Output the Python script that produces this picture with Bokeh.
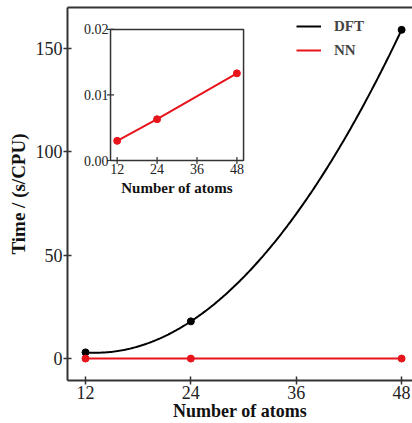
import numpy as np
from bokeh.plotting import figure
from bokeh.models import Range1d, LinearAxis, FixedTicker, Legend, LegendItem
from bokeh.core.properties import value
from bokeh.embed import file_html
from bokeh.resources import INLINE

# ---- data ----
atoms = [12, 24, 48]
dft_time = [3.0, 18.0, 159.0]
nn_time = [0.003, 0.0063, 0.0133]
main_x_ticks = [12, 24, 36, 48]
main_y_ticks = [0, 50, 100, 150]
inset_x_ticks = [12, 24, 36, 48]
inset_x_labels = ["12", "24", "36", "48"]
inset_y_ticks = [0.00, 0.01, 0.02]
inset_y_labels = ["0.00", "0.01", "0.02"]

FONT = "Liberation Serif"
BLACK = "#000000"
RED = "#e8141c"
FRAME = "#333333"

XS, XE = 9.95, 49.24
YS, YE = -10.6, 169.8

p = figure(width=412, height=423, output_backend="svg", toolbar_location=None,
           x_range=Range1d(XS, XE), y_range=Range1d(YS, YE),
           min_border_left=67, min_border_right=0, min_border_top=7, min_border_bottom=0)
p.outline_line_color = None
p.grid.visible = False

for ax in (p.xaxis[0], p.yaxis[0]):
    ax.axis_line_color = FRAME
    ax.axis_line_width = 2
    ax.major_tick_line_color = FRAME
    ax.major_tick_line_width = 1.5
    ax.major_tick_in = 4
    ax.major_tick_out = 4
    ax.minor_tick_in = 0
    ax.minor_tick_out = 0
    ax.major_label_text_font = FONT
    ax.major_label_text_font_size = "18px"
    ax.major_label_text_color = "#222222"
    ax.axis_label_text_font = FONT
    ax.axis_label_text_font_style = "bold"
    ax.axis_label_text_color = "#111111"
    ax.major_label_standoff = 1

p.xaxis.ticker = FixedTicker(ticks=main_x_ticks)
p.yaxis.ticker = FixedTicker(ticks=main_y_ticks)
p.xaxis.axis_label = "Number of atoms"
p.yaxis.axis_label = "Time / (s/CPU)"
p.xaxis.axis_label_text_font_size = "18px"
p.yaxis.axis_label_text_font_size = "19px"
p.xaxis.axis_label_standoff = -1
p.yaxis.axis_label_standoff = 4

top = LinearAxis(ticker=FixedTicker(ticks=[]), axis_line_color=FRAME, axis_line_width=2,
                 major_tick_out=0, major_tick_in=0, minor_tick_out=0, minor_tick_in=0,
                 major_label_text_font_size="0px", major_label_standoff=0)
p.add_layout(top, "above")

# ---- main curves ----
coef = np.polyfit(atoms, dft_time, 2)
xs_fine = np.linspace(min(atoms), max(atoms), 200)
dft_line = p.line(xs_fine, np.polyval(coef, xs_fine), line_color=BLACK, line_width=2)
p.scatter(atoms, dft_time, size=7, color=BLACK)
nn_line = p.line(atoms, nn_time, line_color=RED, line_width=2)
p.scatter(atoms, nn_time, size=7, color=RED)

legend = Legend(items=[LegendItem(label="DFT", renderers=[dft_line]),
                       LegendItem(label="NN", renderers=[nn_line])],
                location=(229, 320), border_line_color=None, background_fill_alpha=0,
                label_text_font=FONT, label_text_font_style="bold", label_text_font_size="15px",
                glyph_width=25, glyph_height=20, label_height=20, label_standoff=13,
                spacing=4, padding=0, margin=0)
p.add_layout(legend)

# ---- inset (drawn via extra ranges) ----
ix0, ix1 = 14.85, 30.0
iy0, iy1 = 95.8, 159.2
IXS, IXE = 10.0, 50.0
IYS, IYE = 0.0, 0.02
sx = (IXE - IXS) / (ix1 - ix0)
sy = (IYE - IYS) / (iy1 - iy0)
p.extra_x_ranges = {"ix": Range1d(IXS - (ix0 - XS) * sx, IXE + (XE - ix1) * sx)}
p.extra_y_ranges = {"iy": Range1d(IYS - (iy0 - YS) * sy, IYE + (YE - iy1) * sy)}
kw = dict(x_range_name="ix", y_range_name="iy")

p.quad(left=IXS, right=IXE, bottom=IYS, top=IYE, fill_color="white",
       line_color=FRAME, line_width=1.5, **kw)
p.scatter(inset_x_ticks, [IYS] * len(inset_x_ticks), marker="dash", angle=np.pi / 2,
          size=7, line_color=FRAME, line_width=1.2, **kw)
p.scatter([IXS] * len(inset_y_ticks), inset_y_ticks, marker="dash",
          size=7, line_color=FRAME, line_width=1.2, **kw)
p.text(inset_x_ticks, [IYS] * len(inset_x_ticks), text=inset_x_labels,
       text_font=value(FONT), text_font_size="14px", text_align="center",
       text_baseline="top", y_offset=3, text_color="#222222", **kw)
p.text([IXS] * len(inset_y_ticks), inset_y_ticks, text=inset_y_labels,
       text_font=value(FONT), text_font_size="14px", text_align="right",
       text_baseline="middle", x_offset=-2, text_color="#222222", **kw)
p.text([(IXS + IXE) / 2], [IYS], text=["Number of atoms"],
       text_font=value(FONT), text_font_size="15px", text_font_style="bold",
       text_align="center", text_baseline="top", y_offset=19, text_color="#111111", **kw)
p.line(atoms, nn_time, line_color=RED, line_width=2, **kw)
p.scatter(atoms, nn_time, size=7, color=RED, **kw)

open("out.html", "w").write(file_html(p, INLINE))
